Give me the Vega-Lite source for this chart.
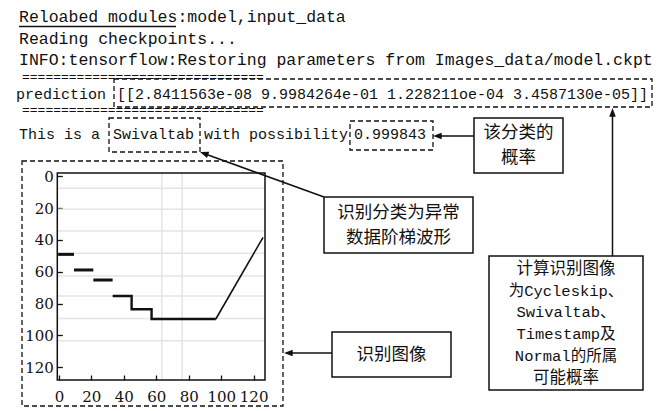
{
  "$schema": "https://vega.github.io/schema/vega-lite/v6.json",
  "width": 657,
  "height": 411,
  "autosize": {"type": "none"},
  "padding": 0,
  "background": "white",
  "config": {"view": {"stroke": null}},
  "datasets": {
    "term1": [
      {"x": 19, "y": 17, "t": "Reloabed modules:model,input_data"},
      {"x": 19, "y": 38.5, "t": "Reading checkpoints..."},
      {"x": 19, "y": 60, "t": "INFO:tensorflow:Restoring parameters from Images_data/model.ckpt"}
    ],
    "term2": [
      {"x": 16, "y": 94, "t": "prediction"},
      {"x": 117, "y": 94, "t": "[[2.8411563e-08 9.9984264e-01 1.228211oe-04 3.4587130e-05]]"},
      {"x": 19, "y": 134, "t": "This is a"},
      {"x": 113, "y": 134, "t": "Swivaltab"},
      {"x": 204, "y": 134, "t": "with possibility"},
      {"x": 354, "y": 134, "t": "0.999843"}
    ],
    "equals": [
      {"x": 22, "y": 77, "t": "==============================="},
      {"x": 22, "y": 109.5, "t": "==============================="}
    ],
    "underline": [{"x": 19, "x2": 176, "y": 26.5}],
    "dashed": [
      {"x": 114, "x2": 652, "y": 79, "y2": 107},
      {"x": 109, "x2": 200, "y": 118, "y2": 152},
      {"x": 350, "x2": 433, "y": 121, "y2": 150},
      {"x": 22, "x2": 283, "y": 161, "y2": 406}
    ],
    "solid": [
      {"x": 474, "x2": 563, "y": 118, "y2": 173},
      {"x": 324, "x2": 473, "y": 197, "y2": 253},
      {"x": 332, "x2": 451, "y": 332, "y2": 377},
      {"x": 489, "x2": 643, "y": 256, "y2": 390}
    ],
    "cjk": [
      {"x": 518.5, "y": 133, "t": "该分类的"},
      {"x": 518.5, "y": 158, "t": "概率"},
      {"x": 398.5, "y": 213, "t": "识别分类为异常"},
      {"x": 398.5, "y": 238, "t": "数据阶梯波形"},
      {"x": 391.5, "y": 355, "t": "识别图像"}
    ],
    "cjkSmall": [
      {"x": 566, "y": 268.5, "t": "计算识别图像"},
      {"x": 566, "y": 377.5, "t": "可能概率"}
    ],
    "mixed": [
      {"x": 566, "y": 290.5, "t": "为Cycleskip、"},
      {"x": 566, "y": 312.3, "t": "Swivaltab、"},
      {"x": 566, "y": 334, "t": "Timestamp及"},
      {"x": 566, "y": 355.8, "t": "Normal的所属"}
    ],
    "arrows": [
      {"x": 474, "y": 136, "x2": 436, "y2": 136},
      {"x": 612.5, "y": 256, "x2": 612.5, "y2": 112},
      {"x": 324, "y": 197, "x2": 204, "y2": 153.5},
      {"x": 332, "y": 353, "x2": 288, "y2": 353}
    ],
    "headLeft": [{"x": 433, "y": 136}, {"x": 284, "y": 353}],
    "headUp": [{"x": 612.5, "y": 108}],
    "headDiag": [{"x": 200, "y": 152}],
    "hgrid": [
      {"x": -1, "x2": 127, "y": 7.6},
      {"x": -1, "x2": 127, "y": 20.8},
      {"x": -1, "x2": 127, "y": 34.4},
      {"x": -1, "x2": 127, "y": 48.4},
      {"x": -1, "x2": 127, "y": 62.7},
      {"x": -1, "x2": 127, "y": 75.2},
      {"x": -1, "x2": 127, "y": 89.3},
      {"x": -1, "x2": 127, "y": 103.3}
    ],
    "vgrid": [
      {"x": 63.4, "y": -2, "y2": 128},
      {"x": 75.9, "y": -2, "y2": 128}
    ],
    "frame": [{"x": -1, "x2": 127, "y": -2, "y2": 128}],
    "steps": [
      {"s": 1, "x": -0.5, "y": 49.1}, {"s": 1, "x": 9.3, "y": 49.1},
      {"s": 2, "x": 9.3, "y": 58.9}, {"s": 2, "x": 21.2, "y": 58.9},
      {"s": 3, "x": 21.2, "y": 65.2}, {"s": 3, "x": 33.1, "y": 65.2}
    ],
    "path": [
      {"i": 1, "x": 33.1, "y": 75.2},
      {"i": 2, "x": 44.8, "y": 75.2},
      {"i": 3, "x": 44.8, "y": 83.6},
      {"i": 4, "x": 57.1, "y": 83.6},
      {"i": 5, "x": 57.1, "y": 89.7},
      {"i": 6, "x": 96.7, "y": 89.7}
    ],
    "ramp": [
      {"x": 96.7, "y": 89.7},
      {"x": 125.8, "y": 38.4}
    ]
  },
  "layer": [
    {
      "encoding": {
        "x": {"field": "x", "type": "quantitative", "scale": {"domain": [0, 657], "nice": false, "zero": false}, "axis": null},
        "y": {"field": "y", "type": "quantitative", "scale": {"domain": [0, 411], "nice": false, "zero": false, "reverse": true}, "axis": null}
      },
      "layer": [
        {
          "data": {"name": "term1"},
          "mark": {"type": "text", "font": "Liberation Mono", "fontSize": 16.5, "align": "left", "baseline": "middle", "color": "#111"},
          "encoding": {"text": {"field": "t"}}
        },
        {
          "data": {"name": "term2"},
          "mark": {"type": "text", "font": "Liberation Mono", "fontSize": 15, "align": "left", "baseline": "middle", "color": "#111"},
          "encoding": {"text": {"field": "t"}}
        },
        {
          "data": {"name": "equals"},
          "mark": {"type": "text", "font": "Liberation Mono", "fontSize": 13, "align": "left", "baseline": "middle", "color": "#111"},
          "encoding": {"text": {"field": "t"}}
        },
        {
          "data": {"name": "underline"},
          "mark": {"type": "rule", "color": "#111", "strokeWidth": 1.3},
          "encoding": {"x2": {"field": "x2"}}
        },
        {
          "data": {"name": "dashed"},
          "mark": {"type": "rect", "filled": false, "stroke": "#111", "strokeWidth": 1.3, "strokeDash": [5, 3]},
          "encoding": {"x2": {"field": "x2"}, "y2": {"field": "y2"}}
        },
        {
          "data": {"name": "solid"},
          "mark": {"type": "rect", "filled": false, "stroke": "#111", "strokeWidth": 1.5},
          "encoding": {"x2": {"field": "x2"}, "y2": {"field": "y2"}}
        },
        {
          "data": {"name": "cjk"},
          "mark": {"type": "text", "font": "Noto Sans CJK SC", "fontSize": 17.5, "align": "center", "baseline": "middle", "color": "#111"},
          "encoding": {"text": {"field": "t"}}
        },
        {
          "data": {"name": "cjkSmall"},
          "mark": {"type": "text", "font": "Noto Sans CJK SC", "fontSize": 16.5, "align": "center", "baseline": "middle", "color": "#111"},
          "encoding": {"text": {"field": "t"}}
        },
        {
          "data": {"name": "mixed"},
          "mark": {"type": "text", "font": "Liberation Mono, Noto Sans CJK SC", "fontSize": 15.5, "align": "center", "baseline": "middle", "color": "#111"},
          "encoding": {"text": {"field": "t"}}
        },
        {
          "data": {"name": "arrows"},
          "mark": {"type": "rule", "color": "#111", "strokeWidth": 1.5},
          "encoding": {"x2": {"field": "x2"}, "y2": {"field": "y2"}}
        },
        {
          "data": {"name": "headLeft"},
          "mark": {"type": "point", "shape": "M0,0L-1,-0.38L-1,0.38Z", "filled": true, "color": "#111", "opacity": 1, "size": 300, "angle": 180}
        },
        {
          "data": {"name": "headUp"},
          "mark": {"type": "point", "shape": "M0,0L-1,-0.38L-1,0.38Z", "filled": true, "color": "#111", "opacity": 1, "size": 300, "angle": 270}
        },
        {
          "data": {"name": "headDiag"},
          "mark": {"type": "point", "shape": "M0,0L-1,-0.38L-1,0.38Z", "filled": true, "color": "#111", "opacity": 1, "size": 300, "angle": 200}
        }
      ]
    },
    {
      "encoding": {
        "x": {
          "field": "x", "type": "quantitative",
          "scale": {"domain": [-1, 127], "range": [57.3, 265], "nice": false, "zero": false},
          "axis": {"orient": "bottom", "offset": -31, "values": [0, 20, 40, 60, 80, 100, 120], "domain": false, "grid": false, "ticks": true, "tickSize": -5, "tickColor": "#111", "tickWidth": 1.3, "labelFont": "DejaVu Serif", "labelFontSize": 15, "labelColor": "#111", "labelPadding": 14, "labelFlush": false, "labelOverlap": false, "title": null}
        },
        "y": {
          "field": "y", "type": "quantitative",
          "scale": {"domain": [-2, 128], "range": [173, 380], "nice": false, "zero": false},
          "axis": {"orient": "left", "offset": -57.3, "values": [0, 20, 40, 60, 80, 100, 120], "domain": false, "grid": false, "ticks": true, "tickSize": -5, "tickColor": "#111", "tickWidth": 1.3, "labelFont": "DejaVu Serif", "labelFontSize": 15, "labelColor": "#111", "labelPadding": 9, "labelFlush": false, "labelOverlap": false, "title": null}
        }
      },
      "layer": [
        {
          "data": {"name": "hgrid"},
          "mark": {"type": "rule", "color": "#e4e4e4", "strokeWidth": 1.5},
          "encoding": {"x2": {"field": "x2"}}
        },
        {
          "data": {"name": "vgrid"},
          "mark": {"type": "rule", "color": "#e4e4e4", "strokeWidth": 1.5},
          "encoding": {"y2": {"field": "y2"}}
        },
        {
          "data": {"name": "frame"},
          "mark": {"type": "rect", "filled": false, "stroke": "#111", "strokeWidth": 1.5},
          "encoding": {"x2": {"field": "x2"}, "y2": {"field": "y2"}}
        },
        {
          "data": {"name": "steps"},
          "mark": {"type": "line", "color": "#111", "strokeWidth": 3},
          "encoding": {"detail": {"field": "s"}}
        },
        {
          "data": {"name": "path"},
          "mark": {"type": "line", "color": "#111", "strokeWidth": 2.4},
          "encoding": {"order": {"field": "i"}}
        },
        {
          "data": {"name": "ramp"},
          "mark": {"type": "line", "color": "#111", "strokeWidth": 1.6},
          "encoding": {}
        }
      ]
    }
  ],
  "resolve": {"scale": {"x": "independent", "y": "independent"}}
}
